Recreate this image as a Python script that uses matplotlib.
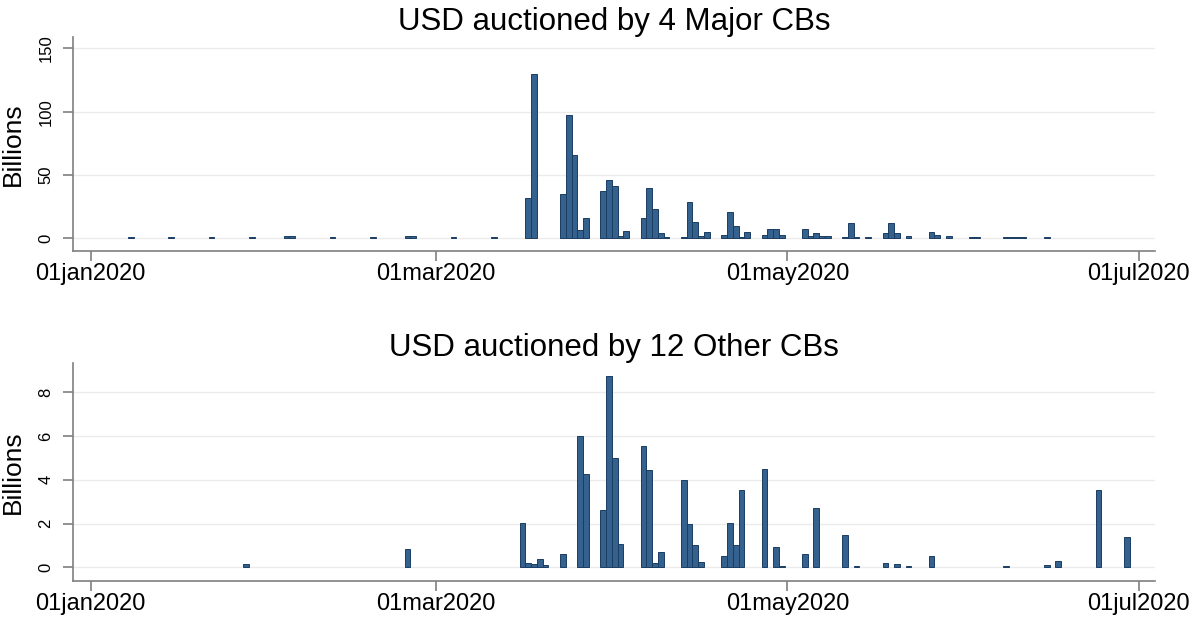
import pandas as pd
import matplotlib.pyplot as plt
import matplotlib.dates as mdates

plt.rcParams['font.family'] = ['Liberation Sans', 'DejaVu Sans']

# USD auctioned by the 4 major central banks (billions)
major_dates = ["2020-01-08", "2020-01-15", "2020-01-22", "2020-01-29", "2020-02-04",
               "2020-02-05", "2020-02-12", "2020-02-19", "2020-02-25", "2020-02-26",
               "2020-03-04", "2020-03-11",
               "2020-03-17", "2020-03-18", "2020-03-23", "2020-03-24", "2020-03-25",
               "2020-03-26", "2020-03-27", "2020-03-30", "2020-03-31", "2020-04-01",
               "2020-04-02", "2020-04-03", "2020-04-06", "2020-04-07", "2020-04-08",
               "2020-04-09", "2020-04-10", "2020-04-13", "2020-04-14", "2020-04-15",
               "2020-04-16", "2020-04-17", "2020-04-20", "2020-04-21", "2020-04-22",
               "2020-04-23", "2020-04-24", "2020-04-27", "2020-04-28", "2020-04-29",
               "2020-04-30", "2020-05-04", "2020-05-05", "2020-05-06", "2020-05-07",
               "2020-05-08", "2020-05-11", "2020-05-12", "2020-05-13", "2020-05-15",
               "2020-05-18", "2020-05-19", "2020-05-20", "2020-05-22", "2020-05-26",
               "2020-05-27", "2020-05-29", "2020-06-02", "2020-06-03", "2020-06-08",
               "2020-06-09", "2020-06-10", "2020-06-11", "2020-06-15"]
major_vals = [1.2, 1.2, 1.2, 1.2, 1.5,
              1.5, 1.2, 1.2, 1.5, 1.5,
              1.2, 1.2,
              32, 130, 35, 97, 66,
              6.5, 16, 37, 46, 41,
              2, 6, 16, 40, 23,
              4, 1, 1, 29, 13,
              2, 5, 3, 21, 10,
              1, 5, 3, 7, 7,
              3, 7, 1.5, 4.5, 1.5,
              1.5, 1, 12, 1, 1,
              4, 12, 4, 2, 5,
              3, 2, 1, 1, 1,
              1, 1, 1, 1]

# USD auctioned by 12 other central banks (billions)
other_dates = ["2020-01-28", "2020-02-25",
               "2020-03-16", "2020-03-17", "2020-03-18", "2020-03-19", "2020-03-20",
               "2020-03-23", "2020-03-26", "2020-03-27", "2020-03-30", "2020-03-31",
               "2020-04-01", "2020-04-02", "2020-04-06", "2020-04-07", "2020-04-08",
               "2020-04-09", "2020-04-13", "2020-04-14", "2020-04-15", "2020-04-16",
               "2020-04-20", "2020-04-21", "2020-04-22", "2020-04-23", "2020-04-27",
               "2020-04-29", "2020-04-30", "2020-05-04", "2020-05-06", "2020-05-11",
               "2020-05-13", "2020-05-18", "2020-05-20", "2020-05-22", "2020-05-26",
               "2020-06-08", "2020-06-15", "2020-06-17", "2020-06-24", "2020-06-29"]
other_vals = [0.15, 0.85,
              2.05, 0.2, 0.15, 0.4, 0.1,
              0.6, 6.0, 4.25, 2.6, 8.75,
              5.0, 1.05, 5.55, 4.45, 0.2,
              0.7, 4.0, 2.0, 1.0, 0.25,
              0.5, 2.05, 1.0, 3.55, 4.5,
              0.95, 0.05, 0.6, 2.7, 1.5,
              0.05, 0.2, 0.15, 0.05, 0.5,
              0.05, 0.12, 0.3, 3.55, 1.37]

tick_dates = ["2020-01-01", "2020-03-01", "2020-05-01", "2020-07-01"]
tick_labels = ["01jan2020", "01mar2020", "01may2020", "01jul2020"]

bar_face = "#35618f"
bar_edge = "#1b3d62"
axis_grey = "#7f7f7f"

fig = plt.figure(figsize=(11.92, 6.18), dpi=100)
ax1 = fig.add_axes([0.0612, 0.5943, 0.9077, 0.3463])
ax2 = fig.add_axes([0.0612, 0.0604, 0.9077, 0.3517])

start = mdates.date2num(pd.Timestamp("2020-01-01"))

panels = [
    (ax1, major_dates, major_vals, "USD auctioned by 4 Major CBs", [0, 50, 100, 150], (-9.8, 159.2)),
    (ax2, other_dates, other_vals, "USD auctioned by 12 Other CBs", [0, 2, 4, 6, 8], (-0.61, 9.33)),
]

for ax, dates, vals, title, yticks, ylim in panels:
    x = mdates.date2num(pd.to_datetime(dates))
    ax.bar(x, vals, width=1.0, color=bar_face, edgecolor=bar_edge, linewidth=0.7, zorder=3)
    ax.set_xlim(start - 3.07, start + 184.8)
    ax.set_ylim(*ylim)
    ax.set_yticks(yticks)
    ax.set_yticklabels([str(v) for v in yticks], rotation=90, va="center", fontsize=12)
    ax.set_xticks(mdates.date2num(pd.to_datetime(tick_dates)))
    ax.set_xticklabels(tick_labels, fontsize=17)
    ax.grid(axis="y", color="#ebebeb", linewidth=1.0, zorder=0)
    ax.set_ylabel("Billions", fontsize=19)
    ax.yaxis.set_label_coords(-0.044, 0.5)
    ax.set_title(title, fontsize=22.5, pad=5)
    for side in ["top", "right"]:
        ax.spines[side].set_visible(False)
    for side in ["left", "bottom"]:
        ax.spines[side].set_color(axis_grey)
        ax.spines[side].set_linewidth(1.2)
    ax.tick_params(axis="x", length=7, color=axis_grey, width=1.2, pad=2)
    ax.tick_params(axis="y", length=7, color=axis_grey, width=1.2, pad=7)

fig.savefig("out.png", dpi=100)
